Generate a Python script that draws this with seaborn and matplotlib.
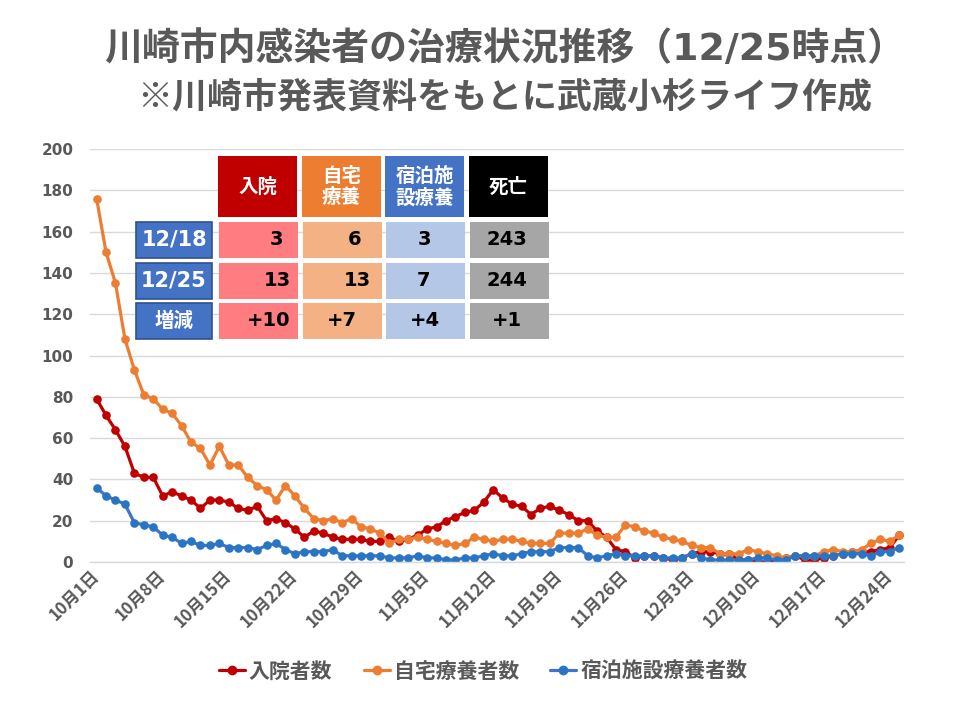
import matplotlib
matplotlib.use("Agg")
import matplotlib.pyplot as plt
import seaborn as sns
import pandas as pd
import numpy as np
from matplotlib.patches import Rectangle
from matplotlib.lines import Line2D

# ---------------- data ----------------
dates = pd.date_range("2020-10-01", "2020-12-25", freq="D")

hospital = [79, 71, 64, 56, 43, 41, 41, 32, 34, 32, 30, 26, 30, 30, 29, 26, 25, 27, 20, 21,
            19, 16, 12, 15, 14, 12, 11, 11, 11, 10, 10, 12, 10, 11, 13, 16, 17, 20, 22, 24,
            25, 29, 35, 31, 28, 27, 23, 26, 27, 25, 23, 20, 20, 15, 12, 6, 5, 2, 3, 3,
            2, 1, 2, 4, 5, 5, 4, 4, 1, 1, 0, 0, 1, 2, 3, 1, 1, 2, 3, 4,
            5, 5, 5, 6, 7, 13]
home = [176, 150, 135, 108, 93, 81, 79, 74, 72, 66, 58, 55, 47, 56, 47, 47, 41, 37, 35, 30,
        37, 32, 26, 21, 20, 21, 19, 21, 17, 16, 14, 9, 11, 11, 12, 11, 10, 9, 8, 9,
        12, 11, 10, 11, 11, 10, 9, 9, 9, 14, 14, 14, 16, 13, 12, 12, 18, 17, 15, 14,
        12, 11, 10, 8, 7, 7, 4, 4, 4, 6, 5, 4, 3, 2, 3, 3, 3, 5, 6, 5,
        5, 6, 9, 11, 10, 13]
hotel = [36, 32, 30, 28, 19, 18, 17, 13, 12, 9, 10, 8, 8, 9, 7, 7, 7, 6, 8, 9,
         6, 4, 5, 5, 5, 6, 3, 3, 3, 3, 3, 2, 2, 2, 3, 2, 2, 1, 1, 2,
         2, 3, 4, 3, 3, 4, 5, 5, 5, 7, 7, 7, 3, 2, 3, 4, 3, 3, 3, 3,
         2, 2, 2, 4, 2, 1, 1, 1, 1, 1, 2, 2, 1, 1, 3, 3, 3, 3, 3, 4,
         4, 4, 3, 5, 5, 7]

series_names = ["入院者数", "自宅療養者数", "宿泊施設療養者数"]
line_colors = ["#C00000", "#ED7D31", "#4472C4"]
marker_colors = ["#C00000", "#ED7D31", "#2775C3"]

tick_labels = ["10月1日", "10月8日", "10月15日", "10月22日", "10月29日", "11月5日", "11月12日",
               "11月19日", "11月26日", "12月3日", "12月10日", "12月17日", "12月24日"]
y_ticks = [0, 20, 40, 60, 80, 100, 120, 140, 160, 180, 200]

title_line1 = "川崎市内感染者の治療状況推移（12/25時点）"
title_line2 = "※川崎市発表資料をもとに武蔵小杉ライフ作成"

table_cols = ["入院", "自宅\n療養", "宿泊施\n設療養", "死亡"]
table_rows = ["12/18", "12/25", "増減"]
table_values = [["3", "6", "3", "243"],
                ["13", "13", "7", "244"],
                ["+10", "+7", "+4", "+1"]]

# ---------------- style ----------------
sns.set_theme(style="white")
plt.rcParams["font.family"] = ["Noto Sans CJK JP", "DejaVu Sans"]
GRAY = "#595959"

W, H = 960, 720
fig = plt.figure(figsize=(9.6, 7.2), dpi=100)
ax = fig.add_axes([90 / W, 1 - 562 / H, 814 / W, 413 / H])

df = pd.DataFrame({
    "day": np.tile(np.arange(len(dates)), 3),
    "value": hospital + home + hotel,
    "series": np.repeat(series_names, len(dates)),
})

for name, lc, mc in zip(series_names, line_colors, marker_colors):
    sub = df[df["series"] == name]
    sns.lineplot(data=sub, x="day", y="value", ax=ax, color=lc, linewidth=2.3,
                 marker="o", markersize=6.2, markerfacecolor=mc, markeredgecolor=mc,
                 markeredgewidth=0, legend=False)

ax.set_xlim(-0.7, len(dates) - 0.5)
ax.set_ylim(0, 200)
ax.set_yticks(y_ticks)
ax.set_yticklabels([str(v) for v in y_ticks], fontsize=11, fontweight="bold", color=GRAY,
                   family=["DejaVu Sans"])
ax.yaxis.grid(True, color="#D9D9D9", linewidth=1)
ax.xaxis.grid(False)
ax.set_xticks(np.arange(0, len(dates), 7))
ax.set_xticklabels(tick_labels, rotation=45, ha="right", va="center",
                   rotation_mode="anchor", fontsize=12, fontweight="bold", color=GRAY)
ax.tick_params(axis="y", length=0, pad=12)
ax.tick_params(axis="x", length=0, pad=8)
ax.set_xlabel("")
ax.set_ylabel("")
for s in ["left", "right", "top"]:
    ax.spines[s].set_visible(False)
ax.spines["bottom"].set_color("#D9D9D9")
ax.spines["bottom"].set_linewidth(1)

# ---------------- titles ----------------
fig.text(505 / W, 1 - 50 / H, title_line1, ha="center", va="center", fontsize=27.3,
         fontweight="bold", color=GRAY, family=["DejaVu Sans", "Noto Sans CJK JP"])
fig.text(505 / W, 1 - 97 / H, title_line2, ha="center", va="center", fontsize=25.2,
         fontweight="bold", color=GRAY)

# ---------------- table ----------------
def box(x0, y0, x1, y1, fc, ec=None, lw=0):
    fig.add_artist(Rectangle((x0 / W, 1 - y1 / H), (x1 - x0) / W, (y1 - y0) / H,
                             transform=fig.transFigure, facecolor=fc,
                             edgecolor=ec if ec else fc, linewidth=lw))

def txt(x, y, s, color, size, **kw):
    fig.text(x / W, 1 - y / H, s, ha="center", va="center", color=color, fontsize=size,
             fontweight="bold", **kw)

col_x = [(218, 297), (302, 381), (385, 464), (469, 548)]
head_colors = ["#C00000", "#ED7D31", "#4472C4", "#000000"]
cell_colors = ["#FF7C80", "#F4B183", "#B4C7E7", "#A6A6A6"]
row_y = [(222, 258), (263, 299), (303, 339)]
val_cx = [[276, 355, 424, 507], [277, 357, 424, 507], [269, 342, 425, 507]]

for (x0, x1), hc, lab in zip(col_x, head_colors, table_cols):
    box(x0, 156, x1, 217, hc)
    txt((x0 + x1) / 2, 187, lab, "white", 14, linespacing=1.15)

for ri, ((y0, y1), rlab) in enumerate(zip(row_y, table_rows)):
    box(136, y0, 212, y1, "#4472C4", ec="#2F528F", lw=1.2)
    if rlab == "増減":
        txt(174, (y0 + y1) / 2, rlab, "white", 14)
    else:
        txt(174, (y0 + y1) / 2, rlab, "white", 15, family=["DejaVu Sans"])
    for ci, ((x0, x1), cc) in enumerate(zip(col_x, cell_colors)):
        box(x0 + 1, y0, x1 + 1, y1, cc)
        txt(val_cx[ri][ci], (y0 + y1) / 2, table_values[ri][ci], "black", 14,
            family=["DejaVu Sans"])

# ---------------- legend ----------------
handles = [Line2D([0], [0], color=lc, linewidth=2.3, marker="o", markersize=6,
                  markerfacecolor=mc, markeredgecolor=mc)
           for lc, mc in zip(line_colors, marker_colors)]
leg = fig.legend(handles, series_names, loc="center", bbox_to_anchor=(483 / W, 1 - 671 / H),
                 ncol=3, frameon=False, fontsize=15, handlelength=1.25, handletextpad=0.2,
                 columnspacing=1.5, labelcolor=GRAY)
for t in leg.get_texts():
    t.set_fontweight("bold")

fig.savefig("out.png", dpi=100)
